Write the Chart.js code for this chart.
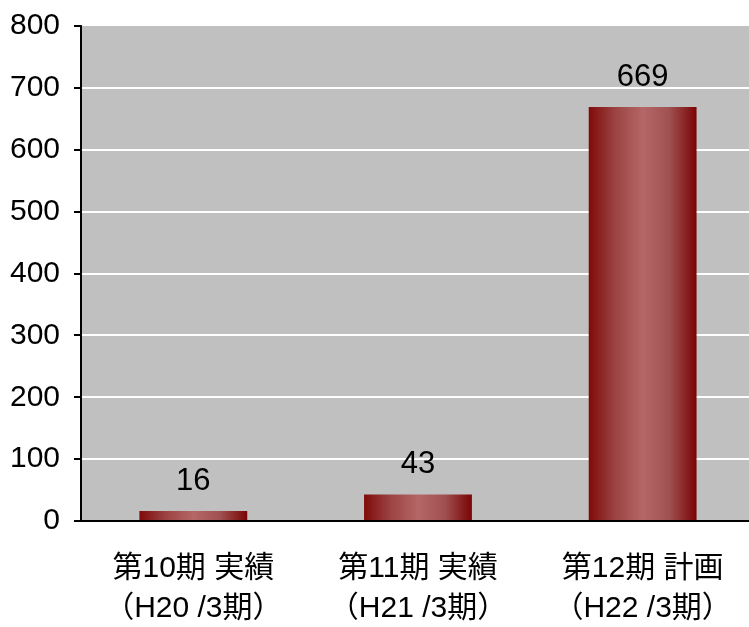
<!DOCTYPE html>
<html>
<head>
<meta charset="utf-8">
<script src="https://cdn.jsdelivr.net/npm/chart.js@4/dist/chart.umd.min.js"></script>
<style>
    html, body { margin: 0; padding: 0; background: #ffffff; overflow: hidden; }
    #wrap { width: 760px; height: 627px; }
</style>
</head>
<body>
<div id="wrap"><canvas id="plan-chart" width="760" height="627"></canvas></div>
<script>
var periodLabels = [
    ["第10期 実績", "（H20 /3期）"],
    ["第11期 実績", "（H21 /3期）"],
    ["第12期 計画", "（H22 /3期）"]
];
var periodValues = [16, 43, 669];
var yTickMax = 800;
var yTickStep = 100;

var fontFamily = "'Liberation Sans', Arial, 'Noto Sans CJK JP', sans-serif";
var barPercent = 0.48;

// grey plot background behind the grid
var plotBackground = {
    id: "plotBackground",
    beforeDraw: function (chart) {
        var area = chart.chartArea;
        var ctx = chart.ctx;
        ctx.save();
        ctx.fillStyle = "#c0c0c0";
        ctx.fillRect(area.left, area.top, area.right - area.left, area.bottom - area.top);
        ctx.restore();
    }
};

// cylinder-like shading across each bar, built from the x scale
function barGradient(context) {
    var chart = context.chart;
    var xScale = chart.scales.x;
    if (!xScale || !chart.chartArea) {
        return "#9c4444";
    }
    var center = xScale.getPixelForValue(context.dataIndex);
    var half = (xScale.width / periodValues.length) * barPercent / 2;
    var grad = chart.ctx.createLinearGradient(center - half, 0, center + half, 0);
    grad.addColorStop(0, "#800a0a");
    grad.addColorStop(0.25, "#9c4444");
    grad.addColorStop(0.5, "#b56666");
    grad.addColorStop(0.75, "#a05050");
    grad.addColorStop(1, "#7a0404");
    return grad;
}

// value printed above each bar
var valueLabels = {
    id: "valueLabels",
    afterDatasetsDraw: function (chart) {
        var ctx = chart.ctx;
        ctx.save();
        ctx.font = "31px " + fontFamily;
        ctx.fillStyle = "#000000";
        ctx.textAlign = "center";
        ctx.textBaseline = "middle";
        chart.getDatasetMeta(0).data.forEach(function (bar, i) {
            ctx.fillText(String(periodValues[i]), bar.x, bar.y - 30);
        });
        ctx.restore();
    }
};

new Chart(
    document.getElementById("plan-chart"),
    {
        type: "bar",
        data: {
            labels: periodLabels,
            datasets: [{
                data: periodValues,
                backgroundColor: barGradient,
                borderWidth: 0,
                barPercentage: barPercent,
                categoryPercentage: 1
            }]
        },
        options: {
            responsive: false,
            animation: false,
            layout: {
                padding: { top: 26, left: 0, right: 1, bottom: 0 }
            },
            scales: {
                x: {
                    grid: {
                        display: false,
                        drawTicks: false
                    },
                    border: {
                        display: true,
                        color: "#000000",
                        width: 2
                    },
                    ticks: {
                        color: "#000000",
                        padding: 28,
                        maxRotation: 0,
                        font: { family: fontFamily, size: 30, lineHeight: 1.33 }
                    },
                    afterFit: function (scale) {
                        scale.height = 106;
                    }
                },
                y: {
                    min: 0,
                    max: yTickMax,
                    grid: {
                        color: function (context) {
                            var v = context.tick ? context.tick.value : 0;
                            return (v === 0 || v === yTickMax) ? "rgba(0,0,0,0)" : "#ffffff";
                        },
                        lineWidth: 2,
                        tickColor: "#000000",
                        tickLength: 7,
                        tickWidth: 2
                    },
                    border: {
                        display: true,
                        color: "#000000",
                        width: 2
                    },
                    ticks: {
                        stepSize: yTickStep,
                        color: "#000000",
                        padding: 14,
                        font: { family: fontFamily, size: 30 }
                    },
                    afterFit: function (scale) {
                        scale.width = 81;
                        scale.paddingTop = 0;
                        scale.paddingBottom = 0;
                    }
                }
            },
            plugins: {
                legend: { display: false },
                tooltip: { enabled: false }
            }
        },
        plugins: [plotBackground, valueLabels]
    }
);
</script>
</body>
</html>
